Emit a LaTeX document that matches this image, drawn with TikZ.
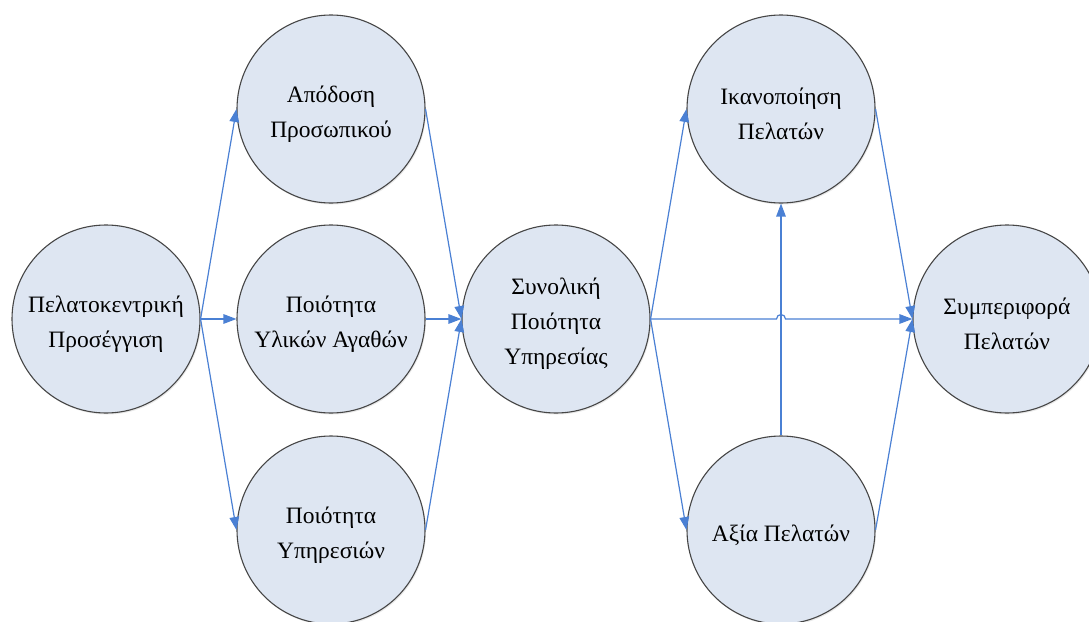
\documentclass[tikz,border=0pt]{standalone}
\usepackage{fontspec}
\setmainfont{Liberation Serif}
\usetikzlibrary{arrows.meta,shadows}
\definecolor{conncol}{RGB}{74,128,212}
\definecolor{circfill}{RGB}{222,230,242}
\definecolor{circline}{RGB}{70,70,70}
\tikzset{
  bubble/.style={circle, draw=circline, line width=1.1pt, fill=circfill,
    minimum size=188pt, inner sep=0pt,
    drop shadow={opacity=0.18, shadow xshift=1pt, shadow yshift=-1.5pt}},
  txt/.style={align=center, inner sep=0pt, yshift=-5pt,
    font=\fontsize{23.5}{35}\selectfont},
  conn/.style={draw=conncol, line width=1.2pt},
  arr/.style={conn, -{Triangle[length=13pt,width=9.5pt]}}
}
\begin{document}
\begin{tikzpicture}[x=1pt,y=-1pt]
\useasboundingbox (0,0) rectangle (1089,621);
\clip (0,0) rectangle (1089,621);
\fill[white] (0,0) rectangle (1089,621);
\node[bubble] (L) at (106,319) {};
\node[bubble] (A) at (331,109) {};
\node[bubble] (B) at (331,319) {};
\node[bubble] (C) at (331,530) {};
\node[bubble] (S) at (556,319) {};
\node[bubble] (I) at (781,109) {};
\node[bubble] (X) at (781,530) {};
\node[bubble] (P) at (1007,319) {};
\node[txt] (Lt) at (L.center) {Πελατοκεντρική\\Προσέγγιση};
\node[txt] (At) at (A.center) {Απόδοση\\Προσωπικού};
\node[txt] (Bt) at (B.center) {Ποιότητα\\Υλικών Αγαθών};
\node[txt] (Ct) at (C.center) {Ποιότητα\\Υπηρεσιών};
\node[txt] (St) at (S.center) {Συνολική\\Ποιότητα\\Υπηρεσίας};
\node[txt] (It) at (I.center) {Ικανοποίηση\\Πελατών};
\node[txt] (Xt) at (X.center) {Αξία Πελατών};
\node[txt] (Pt) at (P.center) {Συμπεριφορά\\Πελατών};
\coordinate (jmp) at (781,319);
\draw[arr] (L.east) -- (A.west);
\draw[arr] (L.east) -- (B.west);
\draw[arr] (L.east) -- (C.west);
\draw[arr] (A.east) -- (S.west);
\draw[arr] (B.east) -- (S.west);
\draw[arr] (C.east) -- (S.west);
\draw[arr] (S.east) -- (I.west);
\draw[arr] (S.east) -- (X.west);
\draw[arr] (X.north) -- (I.south);
\draw[arr] (S.east) -- ([xshift=-4.5pt]jmp) arc[start angle=180,end angle=0,radius=4.5pt] -- (P.west);
\draw[arr] (I.east) -- (P.west);
\draw[arr] (X.east) -- (P.west);
\end{tikzpicture}
\end{document}
